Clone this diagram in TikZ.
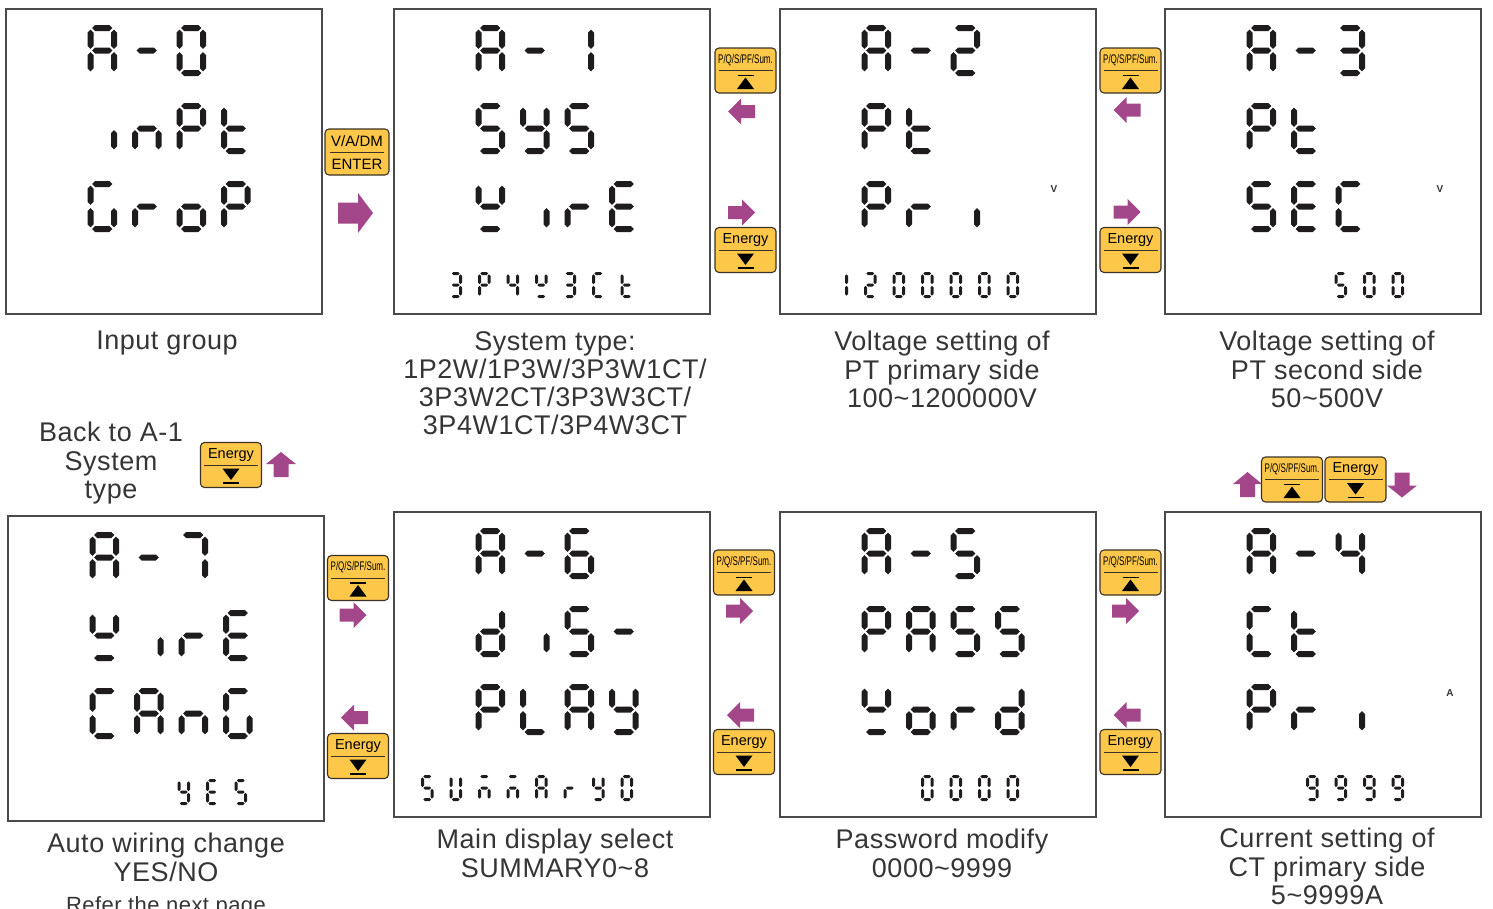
\documentclass[tikz,border=0pt]{standalone}
\usepackage{fontspec}
\setmainfont{Liberation Sans}
\newfontfamily\capfont[LetterSpace=2]{Liberation Sans}
\definecolor{lcdcol}{HTML}{1E1C1D}
\definecolor{boxcol}{HTML}{4A4A4A}
\definecolor{txtcol}{HTML}{353535}
\definecolor{btnfill}{HTML}{FDC84A}
\definecolor{btnline}{HTML}{3A3226}
\definecolor{arrcol}{HTML}{A4478A}
% ---------- seven segment machinery ----------
\newcommand\defch[2]{\expandafter\def\csname sgch@#1\endcsname{#2}}
\defch{A}{a,b,c,e,f,g}
\defch{-}{g}
\defch{0}{a,b,c,d,e,f}
\defch{1}{b,c}
\defch{2}{a,b,g,e,d}
\defch{3}{a,b,g,c,d}
\defch{4}{f,g,b,c}
\defch{5}{a,f,g,c,d}
\defch{6}{a,f,g,e,d,c}
\defch{7}{a,b,c}
\defch{9}{a,b,c,d,f,g}
\defch{i}{c}
\defch{n}{c,e,g}
\defch{P}{a,b,e,f,g}
\defch{t}{d,e,f,g}
\defch{G}{a,c,d,e,f}
\defch{r}{e,g}
\defch{o}{c,d,e,g}
\defch{S}{a,f,g,c,d}
\defch{y}{b,c,d,f,g}
\defch{w}{b,d,f,g}
\defch{E}{a,d,e,f,g}
\defch{C}{a,d,e,f}
\defch{d}{b,c,d,e,g}
\defch{L}{d,e,f}
\defch{U}{b,c,d,e,f}
\defch{M}{a,c,e,g}
\newcommand\sghseg[3]{\fill[lcdcol] ({#1},{#3}) -- ({#1+\sgh},{#3-\sgh}) -- ({#2-\sgh},{#3-\sgh}) -- ({#2},{#3}) -- ({#2-\sgh},{#3+\sgh}) -- ({#1+\sgh},{#3+\sgh}) -- cycle;}
\newcommand\sgvseg[3]{\fill[lcdcol] ({#1},{#2}) -- ({#1+\sgh},{#2+\sgh}) -- ({#1+\sgh},{#3-\sgh}) -- ({#1},{#3}) -- ({#1-\sgh},{#3-\sgh}) -- ({#1-\sgh},{#2+\sgh}) -- cycle;}
\def\sgsega{\sghseg{\sgL+\sgg}{\sgR-\sgg}{\sgT}}
\def\sgsegb{\sgvseg{\sgR}{\sgT+\sgg}{\sgM-\sgg}}
\def\sgsegc{\sgvseg{\sgR}{\sgM+\sgg}{\sgB-\sgg}}
\def\sgsegd{\sghseg{\sgL+\sgg}{\sgR-\sgg}{\sgB}}
\def\sgsege{\sgvseg{\sgL}{\sgM+\sgg}{\sgB-\sgg}}
\def\sgsegf{\sgvseg{\sgL}{\sgT+\sgg}{\sgM-\sgg}}
\def\sgsegg{\sghseg{\sgL+\sgg}{\sgR-\sgg}{\sgM}}
\newcommand\lcdchar[6]{%
  \begin{scope}[shift={({#1},{#2})}]
    \pgfmathsetmacro\sgh{#5/2}%
    \pgfmathsetmacro\sgL{#5/2}%
    \pgfmathsetmacro\sgR{#3-#5/2}%
    \pgfmathsetmacro\sgT{#5/2}%
    \pgfmathsetmacro\sgM{#4/2}%
    \pgfmathsetmacro\sgB{#4-#5/2}%
    \pgfmathsetmacro\sgg{#5*0.28}%
    \expandafter\let\expandafter\sglist\csname sgch@#6\endcsname
    \foreach \s in \sglist {\csname sgseg\s\endcsname}%
  \end{scope}}
\newcommand\lcdrow[7]{\foreach \c [count=\ci from 0] in {#7} {\lcdchar{#1+\ci*#3}{#2}{#4}{#5}{#6}{\c}}}
% boxleft, boxtop, row, startcol, chars
\newcommand\bigrow[5]{\lcdrow{#1+82.5+#4*44.5}{#2+17+#3*78}{44.5}{29.5}{51}{6}{#5}}
% boxleft, boxtop, startk, chars
\newcommand\smallrow[4]{\lcdrow{#1+28+#3*28.5}{#2+264}{28.5}{12.5}{26}{3}{#4}}
% ---------- buttons and arrows ----------
\newcommand\btnPQ[3]{%
  \node[btn] (#1) at (#2,#3) {};
  \draw[btnline, line width=1pt] ({#2-27},{#3}) -- ({#2+27},{#3});
  \node[font=\fontsize{12.5}{12.5}\selectfont, xscale=0.64, inner sep=0] at (#2,{#3-10.5}) {P/Q/S/PF/Sum.};
  \draw[black, line width=1.3pt] ({#2-8},{#3+5}) -- ({#2+8},{#3+5});
  \fill[black] ({#2-8.5},{#3+18.5}) -- ({#2+8.5},{#3+18.5}) -- (#2,{#3+7}) -- cycle;}
\newcommand\btnEN[3]{%
  \node[btn] (#1) at (#2,#3) {};
  \draw[btnline, line width=1pt] ({#2-27},{#3}) -- ({#2+27},{#3});
  \node[font=\fontsize{14.5}{14.5}\selectfont, inner sep=0] at (#2,{#3-10}) {Energy};
  \fill[black] ({#2-8.5},{#3+3.5}) -- ({#2+8.5},{#3+3.5}) -- (#2,{#3+15}) -- cycle;
  \draw[black, line width=1.3pt] ({#2-8},{#3+18}) -- ({#2+8},{#3+18});}
% cx, cy, rotation, length, head length, head half width, shaft half width
\newcommand\barrow[7]{\fill[arrcol, shift={(#1,#2)}, rotate=#3] ({-#4/2},{-#7}) -- ({#4/2-#5},{-#7}) -- ({#4/2-#5},{-#6}) -- ({#4/2},0) -- ({#4/2-#5},{#6}) -- ({#4/2-#5},{#7}) -- ({-#4/2},{#7}) -- cycle;}
\newcommand\smarrow[3]{\barrow{#1}{#2}{#3}{27}{13}{13}{6.5}}
\begin{document}
\begin{tikzpicture}[x=1pt,y=-1pt,
  lcdbox/.style={draw=boxcol, line width=1.6pt, fill=white, minimum width=316pt, minimum height=305pt, anchor=north west, inner sep=0},
  btn/.style={draw=btnline, fill=btnfill, line width=1.1pt, rounded corners=4pt, minimum width=61pt, minimum height=45pt, inner sep=0},
  captxt/.style={font=\capfont\fontsize{27}{28.3}\selectfont, text=txtcol, align=center, anchor=north, inner sep=0},
  unit/.style={font=\bfseries\fontsize{10}{10}\selectfont, text=txtcol, inner sep=0}]
\useasboundingbox (0,0) rectangle (1493,908);
\clip (0,0) rectangle (1493,908);
% ---------- boxes ----------
\node[lcdbox] (a0) at (5,8) {};
\node[lcdbox] (a1) at (393,8) {};
\node[lcdbox] (a2) at (779,8) {};
\node[lcdbox] (a3) at (1164,8) {};
\node[lcdbox] (a7) at (7,515) {};
\node[lcdbox] (a6) at (393,511) {};
\node[lcdbox] (a5) at (779,511) {};
\node[lcdbox] (a4) at (1164,511) {};
% ---------- LCD contents ----------
% A-0
\bigrow{5}{8}{0}{0}{A,-,0}
\bigrow{5}{8}{1}{0}{i,n,P,t}
\bigrow{5}{8}{2}{0}{G,r,o,P}
% A-1
\bigrow{393}{8}{0}{0}{A,-,1}
\bigrow{393}{8}{1}{0}{S,y,S}
\bigrow{393}{8}{2}{0}{w,i,r,E}
\smallrow{393}{8}{1}{3,P,4,w,3,C,t}
% A-2
\bigrow{779}{8}{0}{0}{A,-,2}
\bigrow{779}{8}{1}{0}{P,t}
\bigrow{779}{8}{2}{0}{P,r,i}
\smallrow{779}{8}{1}{1,2,0,0,0,0,0}
\node[unit] (u2) at (1054,189) {V};
% A-3
\bigrow{1164}{8}{0}{0}{A,-,3}
\bigrow{1164}{8}{1}{0}{P,t}
\bigrow{1164}{8}{2}{0}{S,E,C}
\smallrow{1164}{8}{5}{5,0,0}
\node[unit] (u3) at (1440,189) {V};
% A-7
\bigrow{7}{515}{0}{0}{A,-,7}
\bigrow{7}{515}{1}{0}{w,i,r,E}
\bigrow{7}{515}{2}{0}{C,A,n,G}
\smallrow{7}{515}{5}{y,E,S}
% A-6
\bigrow{393}{511}{0}{0}{A,-,6}
\bigrow{393}{511}{1}{0}{d,i,S,-}
\bigrow{393}{511}{2}{0}{P,L,A,y}
\smallrow{393}{511}{0}{S,U,M,M,A,r,y,0}
% A-5
\bigrow{779}{511}{0}{0}{A,-,5}
\bigrow{779}{511}{1}{0}{P,A,S,S}
\bigrow{779}{511}{2}{0}{w,o,r,d}
\smallrow{779}{511}{4}{0,0,0,0}
% A-4
\bigrow{1164}{511}{0}{0}{A,-,4}
\bigrow{1164}{511}{1}{0}{C,t}
\bigrow{1164}{511}{2}{0}{P,r,i}
\smallrow{1164}{511}{4}{9,9,9,9}
\node[unit] (u4) at (1450,693) {A};
% ---------- buttons ----------
\node[btn, minimum width=64pt, minimum height=46pt] (enter) at (357,152) {};
\draw[btnline, line width=1pt] (330,152) -- (384,152);
\node[font=\fontsize{15}{15}\selectfont, inner sep=0] at (357,141.5) {V/A/DM};
\node[font=\fontsize{15}{15}\selectfont, inner sep=0] at (357,164) {ENTER};
\btnPQ{pq1}{745.5}{70.5}
\btnEN{en1}{745.5}{250}
\btnPQ{pq2}{1130.5}{70.5}
\btnEN{en2}{1130.5}{250}
\btnPQ{pq3}{358}{578}
\btnEN{en3}{358}{756}
\btnPQ{pq4}{744}{572.5}
\btnEN{en4}{744}{752}
\btnPQ{pq5}{1130.5}{572.5}
\btnEN{en5}{1130.5}{752}
\btnEN{en6}{231}{465}
\btnPQ{pq7}{1292}{479.5}
\btnEN{en7}{1355.5}{479.5}
% ---------- arrows ----------
\barrow{355.5}{213}{0}{35}{15}{20}{10.5}
\smarrow{741.5}{111.5}{180}
\smarrow{741.5}{212.5}{0}
\smarrow{1127}{110}{180}
\smarrow{1127}{212}{0}
\smarrow{353}{615}{0}
\smarrow{354.5}{717.5}{180}
\smarrow{739.5}{611}{0}
\smarrow{740.5}{715}{180}
\smarrow{1125.5}{611}{0}
\smarrow{1127}{715}{180}
\barrow{281}{464.5}{90}{25}{12}{15}{7.5}
\barrow{1247.5}{484.5}{90}{25}{12}{14.5}{7.5}
\barrow{1402}{485}{-90}{25}{12}{15}{7.5}
% ---------- captions ----------
\node[captxt] (c0) at (167,331) {Input group};
\node[captxt] (c1) at (555,331) {System type:\\1P2W/1P3W/3P3W1CT/\\3P3W2CT/3P3W3CT/\\3P4W1CT/3P4W3CT};
\node[captxt] (c2) at (942,331) {Voltage setting of\\PT primary side\\100\textasciitilde1200000V};
\node[captxt] (c3) at (1327,331) {Voltage setting of\\PT second side\\50\textasciitilde500V};
\node[captxt] (cb) at (111,422) {Back to A-1\\System\\type};
\node[captxt] (c7) at (166,833) {Auto wiring change\\YES/NO};
\node[captxt, font=\capfont\fontsize{22}{24}\selectfont] (c7b) at (166,896) {Refer the next page};
\node[captxt] (c6) at (555,829) {Main display select\\SUMMARY0\textasciitilde8};
\node[captxt] (c5) at (942,829) {Password modify\\0000\textasciitilde9999};
\node[captxt] (c4) at (1327,828) {Current setting of\\CT primary side\\5\textasciitilde9999A};
\end{tikzpicture}
\end{document}
